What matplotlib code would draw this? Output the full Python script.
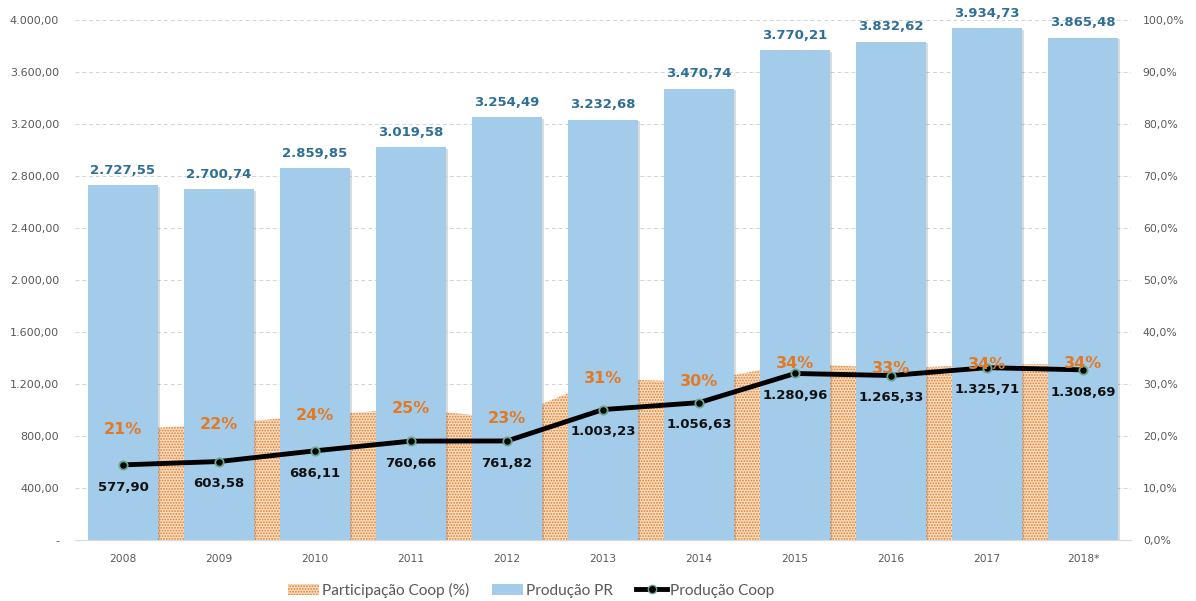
import matplotlib
matplotlib.use('Agg')
import matplotlib.pyplot as plt
import matplotlib.patheffects as pe
from matplotlib.lines import Line2D
from matplotlib.patches import Patch
from matplotlib.ticker import FuncFormatter, MultipleLocator

anos = ['2008', '2009', '2010', '2011', '2012', '2013', '2014', '2015', '2016', '2017', '2018*']
producao_pr = [2727.55, 2700.74, 2859.85, 3019.58, 3254.49, 3232.68, 3470.74, 3770.21, 3832.62, 3934.73, 3865.48]
producao_coop = [577.90, 603.58, 686.11, 760.66, 761.82, 1003.23, 1056.63, 1280.96, 1265.33, 1325.71, 1308.69]
participacao = [21.2, 22.3, 24.0, 25.2, 23.4, 31.0, 30.4, 34.0, 33.0, 33.7, 33.9]

AZUL_BARRA = '#A3CCEB'
AZUL_TEXTO = '#2E6F96'
LARANJA = '#E27A22'
CINZA = '#595959'
AREA_FUNDO = '#F9DEC4'
AREA_PONTOS = '#E0802E'


def fmt_br(v, casas=2):
	s = f'{v:,.{casas}f}'
	return s.replace(',', '#').replace('.', ',').replace('#', '.')


def main():
	plt.rcParams['font.family'] = ['DejaVu Sans']
	plt.rcParams['hatch.linewidth'] = 0.9
	fig = plt.figure(figsize=(11.96, 6.01), dpi=100)
	ax2 = fig.add_axes([0.0627, 0.1015, 0.883, 0.8652])
	ax = ax2.twinx()
	# barras e linha por cima da area
	ax.set_zorder(ax2.get_zorder() + 1)
	ax.patch.set_visible(False)
	ax.yaxis.tick_left()
	ax2.yaxis.tick_right()

	x = list(range(len(anos)))

	# area de participacao (eixo da direita)
	ax2.fill_between(x, 0, participacao, facecolor=AREA_FUNDO, edgecolor=AREA_PONTOS,
		hatch='......', linewidth=0, zorder=1)
	ax2.set_ylim(0, 100)
	ax2.set_xlim(-0.5, len(anos) - 0.5)
	ax2.yaxis.set_major_locator(MultipleLocator(10))
	ax2.yaxis.set_major_formatter(FuncFormatter(lambda v, p: fmt_br(v, 1) + '%'))
	ax2.grid(axis='y', color='#D3D3D3', linestyle=(0, (4, 3)), linewidth=0.7, zorder=0)
	ax2.set_axisbelow(True)

	# barras
	bars = ax.bar(x, producao_pr, width=0.73, color=AZUL_BARRA, zorder=2)
	for b in bars:
		b.set_path_effects([pe.SimplePatchShadow(offset=(1.2, -1.2), alpha=0.18), pe.Normal()])
	for i, v in enumerate(producao_pr):
		ax.annotate(fmt_br(v), (i, v), xytext=(0, 6), textcoords='offset points',
			ha='center', va='bottom', fontsize=9.5, fontweight='bold', color=AZUL_TEXTO)

	# linha producao coop
	ax.plot(x, producao_coop, color='black', linewidth=3.5, marker='o', markersize=6,
		markerfacecolor='black', markeredgecolor='#6AA88F', markeredgewidth=1.3, zorder=4)
	for i, v in enumerate(producao_coop):
		ax.annotate(fmt_br(v), (i, v), xytext=(0, -16), textcoords='offset points',
			ha='center', va='center', fontsize=9.5, fontweight='bold', color='#111111', zorder=5)

	# rotulos de participacao
	for i, v in enumerate(participacao):
		ax.text(i, v, f'{round(v):d}%', transform=ax2.transData, ha='center', va='center',
			fontsize=11.5, fontweight='bold', color=LARANJA, zorder=5)

	ax.set_ylim(0, 4000)
	ax.set_xlim(-0.5, len(anos) - 0.5)
	ax.yaxis.set_major_locator(MultipleLocator(400))
	ax.yaxis.set_major_formatter(FuncFormatter(lambda v, p: '-' if v == 0 else fmt_br(v)))
	ax.set_xticks(x)
	ax2.set_xticks(x)
	ax2.set_xticklabels(anos)

	for a in (ax, ax2):
		for s in a.spines.values():
			s.set_visible(False)
		a.tick_params(length=0, colors=CINZA, labelsize=8)
	ax2.tick_params(axis='x', labelsize=7.7, pad=10)
	ax.tick_params(axis='y', pad=11.5)
	ax2.tick_params(axis='y', labelsize=7.8, pad=8.5)
	ax2.spines['bottom'].set_visible(True)
	ax2.spines['bottom'].set_color('#D9D9D9')

	handles = [
		Patch(facecolor=AREA_FUNDO, edgecolor=AREA_PONTOS, hatch='......', linewidth=0),
		Patch(facecolor=AZUL_BARRA),
		Line2D([0], [0], color='black', linewidth=3.5, marker='o', markersize=6,
			markerfacecolor='black', markeredgecolor='#6AA88F'),
	]
	labels = ['Participação Coop (%)', 'Produção PR', 'Produção Coop']
	fig.legend(handles, labels, loc='center', bbox_to_anchor=(0.444, 0.018), ncol=3,
		frameon=False, prop={'family': 'Lato', 'size': 11.1}, labelcolor=CINZA,
		handlelength=2.0, handletextpad=0.2, columnspacing=1.5)

	fig.savefig('out.png', dpi=100)


if __name__ == "__main__":
	main()
